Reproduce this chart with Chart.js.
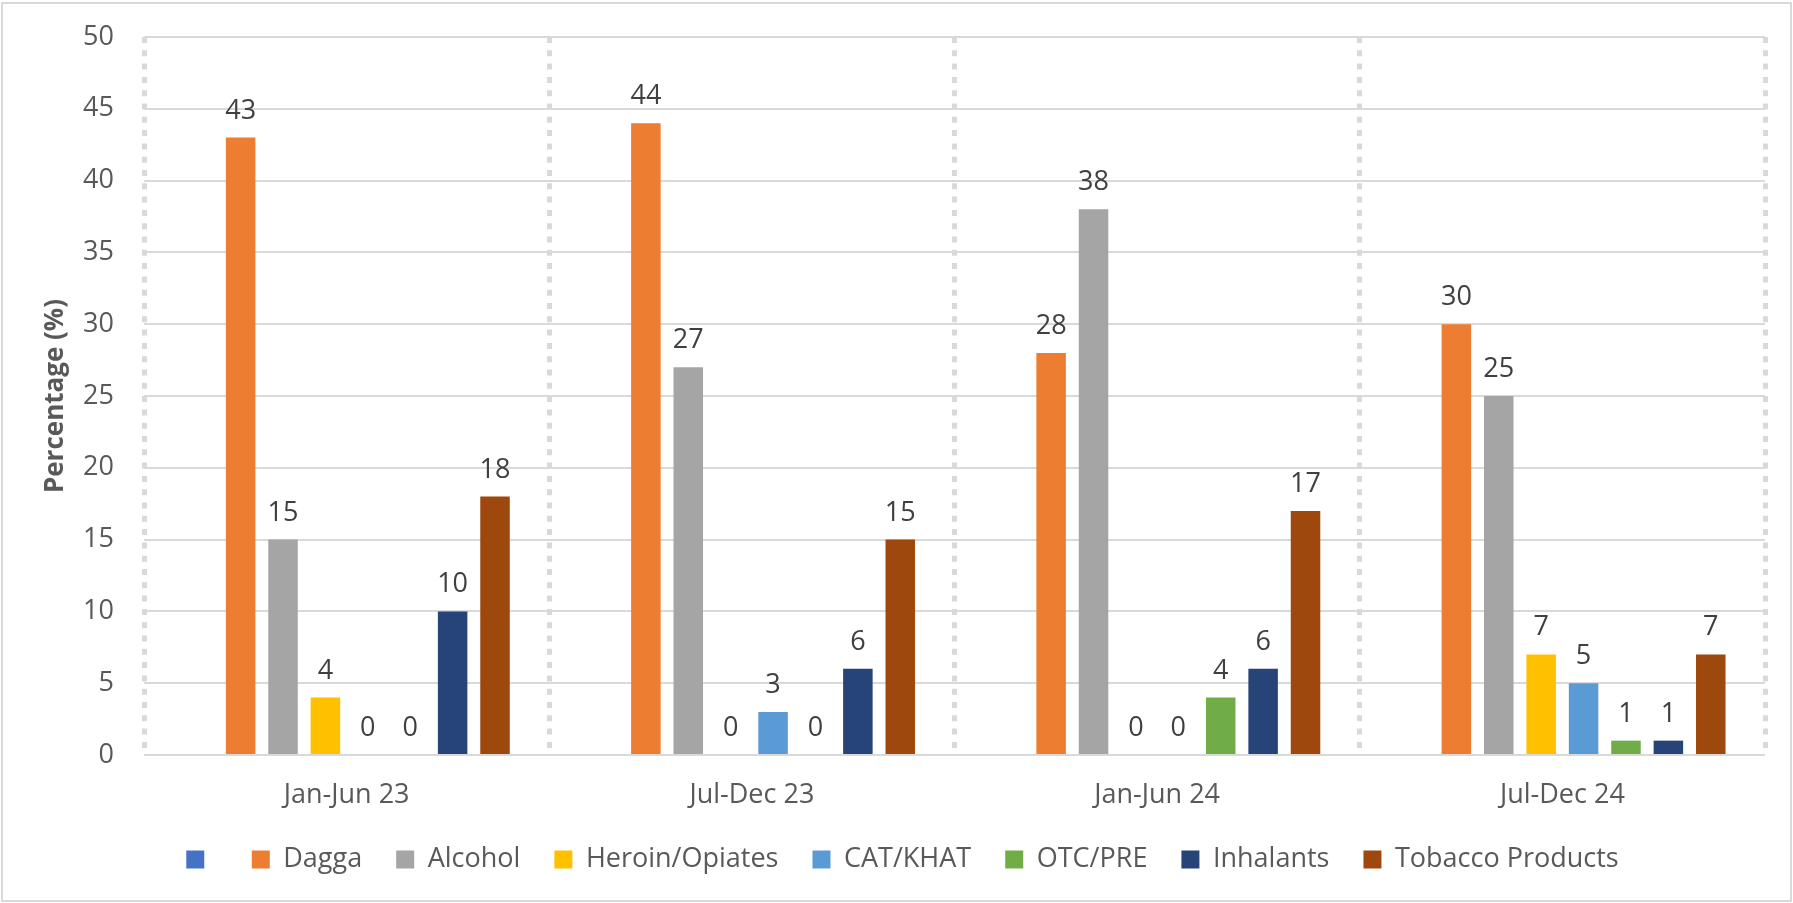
<!DOCTYPE html>
<html>
<head>
<meta charset="utf-8">
<title>Substance use by period</title>
<script src="https://cdn.jsdelivr.net/npm/chart.js@4/dist/chart.umd.min.js"></script>
<style>
  html, body { margin: 0; padding: 0; background: #fff; }
  #chart { display: block; }
</style>
</head>
<body>
<canvas id="chart" width="1793" height="903"></canvas>
<script>
// Six-month reporting periods along the x axis
const periods = ["Jan-Jun 23", "Jul-Dec 23", "Jan-Jun 24", "Jul-Dec 24"];

// Percentage of cases per substance, one value per period
const blankSeries = [null, null, null, null]; // unnamed series, present only in the legend
const dagga = [43, 44, 28, 30];
const alcohol = [15, 27, 38, 25];
const heroinOpiates = [4, 0, 0, 7];
const catKhat = [0, 3, 0, 5];
const otcPre = [0, 0, 4, 1];
const inhalants = [10, 6, 6, 1];
const tobacco = [18, 15, 17, 7];

const yTicks = { min: 0, max: 50, step: 5 };

const TEXT_GREY = "#595959";
const LABEL_GREY = "#404040";
const GRID_GREY = "#d9d9d9";

Chart.defaults.font.family = '"Open Sans", "Noto Sans", sans-serif';
Chart.defaults.color = TEXT_GREY;

/** White page with the thin frame Excel puts around a chart object. */
const chartFrame = {
  id: "chartFrame",
  beforeDraw(chart) {
    const { ctx, width, height } = chart;
    ctx.save();
    ctx.fillStyle = "#fff";
    ctx.fillRect(0, 0, width, height);
    ctx.strokeStyle = GRID_GREY;
    ctx.lineWidth = 2;
    ctx.strokeRect(2, 3, width - 4, height - 5);
    ctx.restore();
  },
};

/** Prints each bar's value just above its top (zeros included, nulls skipped). */
const valueLabels = {
  id: "valueLabels",
  afterDatasetsDraw(chart) {
    const { ctx } = chart;
    ctx.save();
    ctx.font = '27px "Open Sans", "Noto Sans", sans-serif';
    ctx.fillStyle = LABEL_GREY;
    ctx.textAlign = "center";
    ctx.textBaseline = "alphabetic";
    chart.data.datasets.forEach((ds, i) => {
      const meta = chart.getDatasetMeta(i);
      if (meta.hidden) return;
      meta.data.forEach((bar, j) => {
        const v = ds.data[j];
        if (v == null) return;
        ctx.fillText(String(v), bar.x, bar.y - 19);
      });
    });
    ctx.restore();
  },
};

function series(label, data, color) {
  return {
    label,
    data,
    backgroundColor: color,
    borderWidth: 0,
    categoryPercentage: 0.837,
    barPercentage: 0.696,
  };
}

new Chart(document.getElementById("chart"), {
  type: "bar",
  data: {
    labels: periods,
    datasets: [
      series("", blankSeries, "#4472c4"),
      series("Dagga", dagga, "#ed7d31"),
      series("Alcohol", alcohol, "#a5a5a5"),
      series("Heroin/Opiates", heroinOpiates, "#ffc000"),
      series("CAT/KHAT", catKhat, "#5b9bd5"),
      series("OTC/PRE", otcPre, "#70ad47"),
      series("Inhalants", inhalants, "#264478"),
      series("Tobacco Products", tobacco, "#9e480e"),
    ],
  },
  options: {
    responsive: false,
    animation: false,
    devicePixelRatio: 1,
    layout: { padding: { left: 40, right: 28, top: 37, bottom: 20 } },
    scales: {
      x: {
        grid: { color: GRID_GREY, lineWidth: 5, drawTicks: false },
        border: { display: false, dash: [6, 7.3] },
        ticks: { padding: 24, font: { size: 27 }, color: TEXT_GREY },
        afterFit(scale) {
          scale.height = 57;
        },
      },
      y: {
        min: yTicks.min,
        max: yTicks.max,
        grid: { color: GRID_GREY, lineWidth: 2, drawTicks: false },
        border: { display: false },
        ticks: { stepSize: yTicks.step, padding: 30, font: { size: 27 }, color: TEXT_GREY },
        title: {
          display: true,
          text: "Percentage (%)",
          color: TEXT_GREY,
          font: { size: 26, weight: "bold" },
          padding: { top: 0, bottom: 0 },
        },
        afterFit(scale) {
          // fixed axis width; the top tick label may sit in the layout padding
          scale.width = 104;
          scale.paddingTop = 0;
          scale.paddingBottom = 0;
        },
      },
    },
    plugins: {
      legend: {
        position: "bottom",
        labels: {
          boxWidth: 18,
          boxHeight: 18,
          padding: 34,
          color: TEXT_GREY,
          font: { size: 27 },
        },
      },
      tooltip: { enabled: false },
    },
  },
  plugins: [chartFrame, valueLabels],
});
</script>
</body>
</html>
